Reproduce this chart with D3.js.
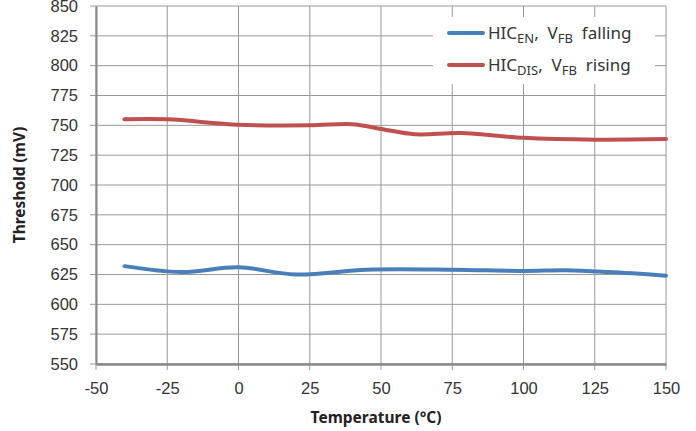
<!DOCTYPE html>
<html>
  <head>
    <meta charset="UTF-8">
    <title></title>
    <style>
    body { margin: 0; background: #fff; }
    svg { font-family: "Noto Sans", sans-serif; }
    .tick text { font-size: 16.5px; fill: #333; }
    .grid line { stroke: #999; stroke-width: 1; }
    .axis-title { font-size: 15.5px; font-weight: bold; fill: #222; }
    .legend text { font-size: 17px; fill: #333; }
    </style>
  </head>
  <body>
    <svg id="chart" width="696" height="431"></svg>
  </body>
  <script src="https://cdn.jsdelivr.net/npm/d3@7"></script>
  <script>
  // temperatures (C) and thresholds (mV)
  var tempEn = [-40, -20, 0, 20, 45, 75, 100, 115, 130, 150];
  var hicEn = [632, 627, 631, 625, 629, 629, 628, 628.5, 627, 624];
  var tempDis = [-40, -25, 0, 25, 40, 50, 62, 78, 100, 125, 150];
  var hicDis = [755, 755, 750.5, 750, 751, 747, 742.5, 743.5, 739.5, 738, 738.5];
  var xTicks = [-50, -25, 0, 25, 50, 75, 100, 125, 150];
  var yTicks = [550, 575, 600, 625, 650, 675, 700, 725, 750, 775, 800, 825, 850];

  var pLeft = 96, pRight = 666, pTop = 6, pBottom = 364;

  var svg = d3.select("#chart");

  var x = d3.scaleLinear().domain([-50, 150]).range([pLeft, pRight]);
  var y = d3.scaleLinear().domain([550, 850]).range([pBottom, pTop]);

  // gridlines
  var grid = svg.append("g").attr("class", "grid");
  grid.selectAll(".v").data(xTicks).enter().append("line")
    .attr("x1", d => x(d)).attr("x2", d => x(d))
    .attr("y1", pTop).attr("y2", pBottom + 6);
  grid.selectAll(".h").data(yTicks).enter().append("line")
    .attr("x1", pLeft - 6).attr("x2", pRight)
    .attr("y1", d => y(d)).attr("y2", d => y(d));

  // axes
  var xAxis = svg.append("g")
    .attr("transform", "translate(0," + pBottom + ")")
    .call(d3.axisBottom(x).tickValues(xTicks).tickSize(0).tickPadding(18)
      .tickFormat(d => String(d)));
  xAxis.select(".domain").attr("stroke", "#888").attr("stroke-width", 2.5);

  var yAxis = svg.append("g")
    .attr("transform", "translate(" + pLeft + ",0)")
    .call(d3.axisLeft(y).tickValues(yTicks).tickSize(0).tickPadding(18)
      .tickFormat(d => String(d)));
  yAxis.select(".domain").attr("stroke", "#888").attr("stroke-width", 2);

  svg.append("text").attr("class", "axis-title")
    .attr("x", (pLeft + pRight) / 2 - 5).attr("y", 423)
    .attr("text-anchor", "middle")
    .text("Temperature (\u00b0C)");

  svg.append("text").attr("class", "axis-title")
    .attr("transform", "translate(25," + ((pTop + pBottom) / 2) + ")rotate(-90)")
    .attr("text-anchor", "middle")
    .text("Threshold (mV)");

  // series
  var line = d3.line()
    .x(d => x(d[0]))
    .y(d => y(d[1]))
    .curve(d3.curveCatmullRom.alpha(0.5));

  svg.append("path")
    .datum(d3.zip(tempDis, hicDis))
    .attr("d", line)
    .attr("fill", "none")
    .attr("stroke", "#c0504d")
    .attr("stroke-width", 4)
    .attr("stroke-linecap", "round");

  svg.append("path")
    .datum(d3.zip(tempEn, hicEn))
    .attr("d", line)
    .attr("fill", "none")
    .attr("stroke", "#4a7ebb")
    .attr("stroke-width", 4)
    .attr("stroke-linecap", "round");

  // legend
  var legend = svg.append("g").attr("class", "legend");
  legend.append("rect")
    .attr("x", 433).attr("y", 17).attr("width", 222).attr("height", 67)
    .attr("fill", "#fff");

  var entries = [
    { color: "#4a7ebb", sub: "EN", tail: " falling", y: 33 },
    { color: "#c0504d", sub: "DIS", tail: " rising", y: 65 }
  ];
  entries.forEach(function(e) {
    legend.append("line")
      .attr("x1", 449).attr("x2", 483)
      .attr("y1", e.y).attr("y2", e.y)
      .attr("stroke", e.color).attr("stroke-width", 4)
      .attr("stroke-linecap", "round");
    var t = legend.append("text").attr("x", 488).attr("y", e.y + 6);
    t.append("tspan").text("HIC");
    t.append("tspan").attr("font-size", "13px").attr("dy", 4).text(e.sub);
    t.append("tspan").attr("dy", -4).text(",\u00a0 V");
    t.append("tspan").attr("font-size", "13px").attr("dy", 4).text("FB");
    t.append("tspan").attr("dy", -4).text("\u00a0\u00a0" + e.tail.trim());
  });
  </script>
</html>
